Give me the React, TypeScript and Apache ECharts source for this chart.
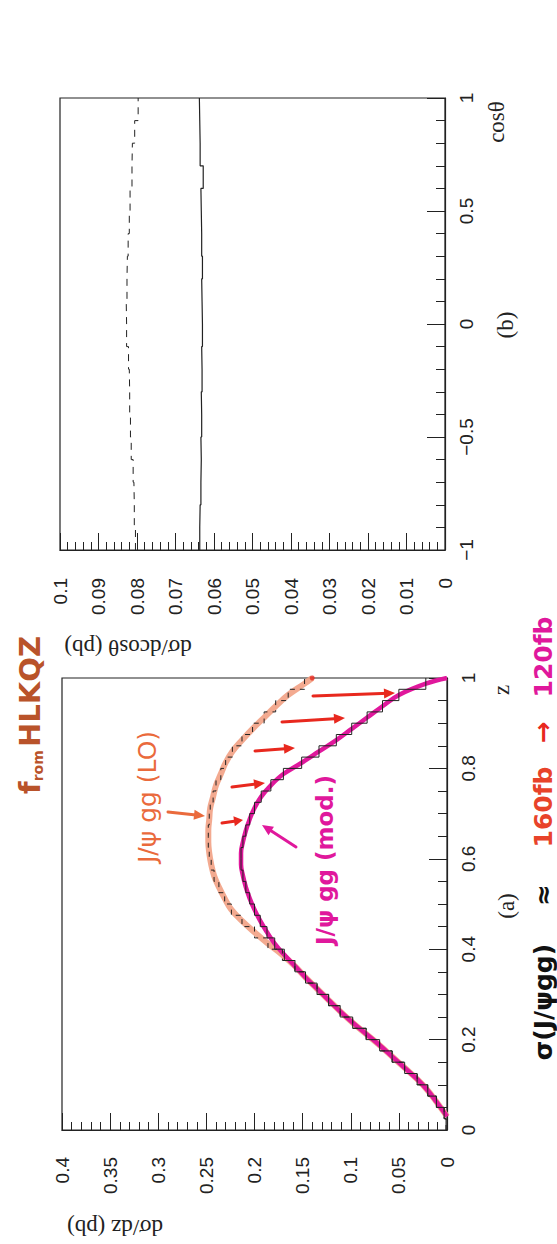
import React, { useEffect, useRef } from 'react';
import * as echarts from 'echarts';

// ---------- data ----------
// panel (a): dσ/dz histograms, 40 bins in z (width 0.025)
const zEdges: number[] = Array.from({ length: 41 }, (_, i) => +(i * 0.025).toFixed(4));
const modValues = [
  0.001, 0.003, 0.011, 0.020, 0.031, 0.044, 0.057, 0.070, 0.084, 0.098,
  0.111, 0.123, 0.135, 0.147, 0.158, 0.169, 0.179, 0.187, 0.194, 0.200,
  0.205, 0.209, 0.212, 0.214, 0.214, 0.212, 0.209, 0.205, 0.200, 0.193,
  0.183, 0.170, 0.151, 0.133, 0.115, 0.099, 0.083, 0.067, 0.050, 0.022,
];
const loValues = [
  0.001, 0.003, 0.011, 0.020, 0.031, 0.044, 0.057, 0.070, 0.084, 0.098,
  0.111, 0.123, 0.135, 0.147, 0.158, 0.171, 0.186, 0.200, 0.213, 0.224,
  0.231, 0.237, 0.242, 0.245, 0.247, 0.248, 0.248, 0.247, 0.246, 0.243,
  0.240, 0.235, 0.230, 0.223, 0.213, 0.202, 0.190, 0.178, 0.165, 0.148,
];
const modEnds = [[0, 0.03], [0, 1.0]];
const loEnds = [[0, 0.03], [0.14, 1.0]];

// panel (b): dσ/dcosθ histograms, 20 bins in cosθ (width 0.1)
const cosEdges: number[] = Array.from({ length: 21 }, (_, i) => +(-1 + i * 0.1).toFixed(4));
const cosSolid = [
  0.0637, 0.0636, 0.0634, 0.0633, 0.0634, 0.0632, 0.0633, 0.0631, 0.0632, 0.0630,
  0.0631, 0.0632, 0.0630, 0.0632, 0.0633, 0.0634, 0.0628, 0.0636, 0.0637, 0.0638,
];
const cosDashed = [
  0.0804, 0.0807, 0.0808, 0.0810, 0.0815, 0.0817, 0.0819, 0.0820, 0.0822, 0.0827,
  0.0828, 0.0826, 0.0825, 0.0823, 0.0820, 0.0818, 0.0813, 0.0812, 0.0806, 0.0797,
];

const dzTicks = { min: 0, max: 0.4, interval: 0.05 };
const zTicks = { min: 0, max: 1, interval: 0.2 };
const dcTicks = { min: 0, max: 0.1, interval: 0.01 };
const cosTicks = { min: -1, max: 1, interval: 0.5 };

// ---------- helpers ----------
const stepPoints = (edges: number[], vals: number[]) => {
  const pts: number[][] = [];
  vals.forEach((v, i) => {
    pts.push([v, edges[i]]);
    pts.push([v, edges[i + 1]]);
  });
  return pts;
};
const centerPoints = (edges: number[], vals: number[], from: number) =>
  vals.slice(from).map((v, j) => {
    const i = j + from;
    return [v, (edges[i] + edges[i + 1]) / 2];
  });

const SANS = '"Liberation Sans", Arial, sans-serif';
const SERIF = '"Liberation Serif", "Times New Roman", serif';
const HAND = '"DejaVu Sans", sans-serif';
const INK = '#222';
const MAGENTA = '#e0189c';
const RED = '#e8281e';
const ORANGE = '#ea6a3c';
const SALMON = '#f2a184';

const arrow = (x1: number, y1: number, x2: number, y2: number, color: string, w = 3, L = 11, W = 5) => {
  const a = Math.atan2(y2 - y1, x2 - x1);
  const c = Math.cos(a), s = Math.sin(a);
  return [
    { type: 'line', shape: { x1, y1, x2: x2 - L * 0.6 * c, y2: y2 - L * 0.6 * s }, style: { stroke: color, lineWidth: w, lineCap: 'round' }, z: 50 },
    {
      type: 'polygon',
      shape: { points: [[x2, y2], [x2 - L * c + W * s, y2 - L * s - W * c], [x2 - L * c - W * s, y2 - L * s + W * c]] },
      style: { fill: color }, z: 50,
    },
  ];
};

const rText = (text: string, x: number, y: number, font: string, fill: string, rotation: number) => ({
  type: 'text', x, y, rotation, z: 60,
  style: { text, font, fill, align: 'center', verticalAlign: 'middle' },
});

const valueAxisCommon = (gridIndex: number, t: { min: number; max: number; interval: number }, splitMinor: number, margin: number) => ({
  gridIndex, type: 'value', min: t.min, max: t.max, interval: t.interval,
  inverse: true, position: 'bottom',
  axisLine: { show: true, onZero: false, lineStyle: { color: INK, width: 1.2 } },
  axisTick: { show: true, inside: true, length: 17, lineStyle: { color: INK, width: 1 } },
  minorTick: { show: true, splitNumber: splitMinor, length: 8, lineStyle: { color: INK, width: 1 } },
  splitLine: { show: false }, minorSplitLine: { show: false },
  axisLabel: { rotate: 90, margin, fontFamily: SANS, fontSize: 19, color: INK, hideOverlap: false },
});

const sideAxisCommon = (gridIndex: number, t: { min: number; max: number; interval: number }, splitMinor: number) => ({
  gridIndex, type: 'value', min: t.min, max: t.max, interval: t.interval, position: 'right',
  axisLine: { show: true, onZero: false, lineStyle: { color: INK, width: 1.2 } },
  axisTick: { show: true, inside: true, length: 18, lineStyle: { color: INK, width: 1 } },
  minorTick: { show: true, splitNumber: splitMinor, length: 9, lineStyle: { color: INK, width: 1 } },
  splitLine: { show: false }, minorSplitLine: { show: false },
  axisLabel: {
    rotate: 90, margin: 12, fontFamily: SANS, fontSize: 19, color: INK, hideOverlap: false,
    formatter: (v: number) => (v < 0 ? '\u2212' + String(Math.abs(v)) : String(v)),
  },
});

export default function App() {
  const ref = useRef<HTMLDivElement>(null);
  useEffect(() => {
    if (!ref.current) return;
    const chart = echarts.init(ref.current, null, { renderer: 'svg' });
    const line = (xi: number, data: number[][], color: string, width: number, opts: any = {}) => ({
      type: 'line', xAxisIndex: xi, yAxisIndex: xi, data, showSymbol: false, symbol: 'none',
      lineStyle: { color, width, ...(opts.lineStyle || {}) }, silent: true, z: opts.z ?? 2,
      smooth: opts.smooth ?? false, ...(opts.extra || {}),
    });
    const option: any = {
      animation: false,
      backgroundColor: '#ffffff',
      grid: [
        { left: 60, top: 98, width: 385, height: 452, show: true, borderColor: INK, borderWidth: 1.2, backgroundColor: 'transparent' },
        { left: 62, top: 678, width: 385, height: 452, show: true, borderColor: INK, borderWidth: 1.2, backgroundColor: 'transparent' },
      ],
      xAxis: [valueAxisCommon(0, dcTicks, 5, 28), valueAxisCommon(1, dzTicks, 5, 27)],
      yAxis: [sideAxisCommon(0, cosTicks, 5), sideAxisCommon(1, zTicks, 4)],
      series: [
        // panel (b)
        line(0, stepPoints(cosEdges, cosDashed), INK, 1, { lineStyle: { type: [7, 6] } }),
        line(0, stepPoints(cosEdges, cosSolid), INK, 1.2),
        // panel (a) hand-drawn overlays
        line(1, [loEnds[0], ...centerPoints(zEdges, loValues, 2), loEnds[1]], SALMON, 6, { smooth: 0.4, z: 1, lineStyle: { opacity: 0.9 } }),
        line(1, [modEnds[0], ...centerPoints(zEdges, modValues, 2), modEnds[1]], MAGENTA, 4.5, { smooth: 0.4, z: 2 }),
        // panel (a) histograms
        line(1, stepPoints(zEdges, loValues), INK, 1, { z: 3, lineStyle: { type: [5, 5] } }),
        line(1, stepPoints(zEdges, modValues), INK, 1, { z: 4 }),
        {
          type: 'scatter', xAxisIndex: 1, yAxisIndex: 1, data: [loEnds[1]], symbolSize: 5,
          itemStyle: { color: RED }, silent: true, z: 5,
        },
      ],
      graphic: [
        // axis titles and panel labels
        rText('d\u03c3/dcos\u03b8 (pb)', 128, 647, `23px ${SERIF}`, INK, Math.PI),
        rText('d\u03c3/dz (pb)', 115, 1227, `23px ${SERIF}`, INK, Math.PI),
        rText('cos\u03b8', 496, 122, `23px ${SERIF}`, INK, Math.PI / 2),
        rText('z', 501, 690, `23px ${SERIF}`, INK, Math.PI / 2),
        rText('(b)', 505, 325, `23px ${SERIF}`, INK, Math.PI / 2),
        rText('(a)', 506, 906, `23px ${SERIF}`, INK, Math.PI / 2),
        // handwritten notes
        {
          type: 'text', x: 30, y: 715, rotation: Math.PI / 2, z: 60,
          style: {
            text: '{a|f}{b|rom} {a|HLKQZ}', align: 'center', verticalAlign: 'middle',
            rich: {
              a: { font: `bold 29px ${HAND}`, fill: '#b9532a' },
              b: { font: `bold 14px ${HAND}`, fill: '#b9532a', verticalAlign: 'bottom' },
            },
          },
        },
        rText('J/\u03c8 gg (LO)', 147, 797, `25px ${HAND}`, ORANGE, Math.PI / 2),
        rText('J/\u03c8 gg (mod.)', 325, 860, `bold 23px ${HAND}`, MAGENTA, Math.PI / 2),
        rText('\u03c3(J/\u03c8gg)', 543, 1002, `bold 25px ${HAND}`, '#111', Math.PI / 2),
        rText('\u2248', 543, 895, `bold 26px ${HAND}`, '#111', Math.PI / 2),
        rText('160fb', 543, 807, `bold 25px ${HAND}`, '#e8432a', Math.PI / 2),
        rText('\u2192', 543, 732, `bold 26px ${HAND}`, RED, Math.PI / 2),
        rText('120fb', 543, 657, `bold 25px ${HAND}`, MAGENTA, Math.PI / 2),
        // arrows
        ...arrow(168, 812, 205, 816, ORANGE, 3),
        ...arrow(313, 696, 395, 693, RED, 3),
        ...arrow(282, 722, 345, 718, RED, 3),
        ...arrow(255, 751, 295, 748, RED, 3),
        ...arrow(232, 787, 265, 783, RED, 3),
        ...arrow(222, 823, 243, 820, RED, 3, 9, 5),
        ...arrow(296, 847, 262, 825, MAGENTA, 3),
      ],
    };
    chart.setOption(option);
    return () => chart.dispose();
  }, []);
  return (
    <div
      ref={ref}
      style={{ position: 'absolute', left: 0, top: 0, width: 557, height: 1244, background: '#fff' }}
    />
  );
}
